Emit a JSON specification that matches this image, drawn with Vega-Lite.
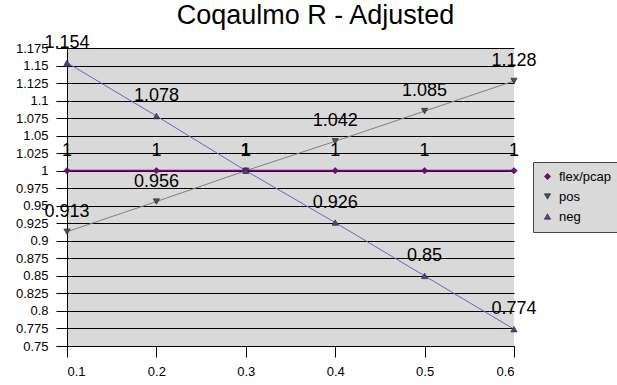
{
  "$schema": "https://vega.github.io/schema/vega-lite/v6.json",
  "width": 447,
  "height": 298,
  "autosize": "none",
  "padding": {"left": 67, "top": 48, "right": 103, "bottom": 39},
  "background": "white",
  "title": {
    "text": "Coqaulmo R - Adjusted",
    "font": "Liberation Sans",
    "fontSize": 27,
    "fontWeight": "normal",
    "color": "black",
    "anchor": "middle",
    "frame": "group",
    "dx": 25,
    "baseline": "alphabetic",
    "offset": -17
  },
  "config": {
    "view": {"fill": "#d9d9d9", "stroke": null},
    "font": "Liberation Sans"
  },
  "data": {
    "values": [
      {"x": 0.1, "series": "flex/pcap", "value": 1},
      {"x": 0.2, "series": "flex/pcap", "value": 1},
      {"x": 0.3, "series": "flex/pcap", "value": 1},
      {"x": 0.4, "series": "flex/pcap", "value": 1},
      {"x": 0.5, "series": "flex/pcap", "value": 1},
      {"x": 0.6, "series": "flex/pcap", "value": 1},
      {"x": 0.1, "series": "pos", "value": 0.913},
      {"x": 0.2, "series": "pos", "value": 0.956},
      {"x": 0.3, "series": "pos", "value": 1},
      {"x": 0.4, "series": "pos", "value": 1.042},
      {"x": 0.5, "series": "pos", "value": 1.085},
      {"x": 0.6, "series": "pos", "value": 1.128},
      {"x": 0.1, "series": "neg", "value": 1.154},
      {"x": 0.2, "series": "neg", "value": 1.078},
      {"x": 0.3, "series": "neg", "value": 1},
      {"x": 0.4, "series": "neg", "value": 0.926},
      {"x": 0.5, "series": "neg", "value": 0.85},
      {"x": 0.6, "series": "neg", "value": 0.774}
    ]
  },
  "encoding": {
    "x": {
      "field": "x",
      "type": "quantitative",
      "scale": {"domain": [0.1, 0.6], "nice": false, "zero": false},
      "axis": {
        "title": null,
        "values": [0.1, 0.2, 0.3, 0.4, 0.5, 0.6],
        "format": ".1f",
        "grid": false,
        "domainColor": "black",
        "domainWidth": 1,
        "tickColor": "black",
        "tickSize": 11,
        "labelFontSize": 13,
        "labelColor": "black",
        "labelPadding": 8,
        "labelFont": "Liberation Sans"
      }
    },
    "y": {
      "field": "value",
      "type": "quantitative",
      "scale": {"domain": [0.75, 1.175], "nice": false, "zero": false},
      "axis": {
        "title": null,
        "values": [0.75, 0.775, 0.8, 0.825, 0.85, 0.875, 0.9, 0.925, 0.95, 0.975, 1, 1.025, 1.05, 1.075, 1.1, 1.125, 1.15, 1.175],
        "format": ".3~f",
        "grid": true,
        "gridColor": "black",
        "gridWidth": 1,
        "gridOpacity": 1,
        "domainColor": "black",
        "domainWidth": 1,
        "tickColor": "black",
        "tickSize": 11,
        "labelFontSize": 13,
        "labelColor": "black",
        "labelPadding": 8,
        "labelFont": "Liberation Sans"
      }
    }
  },
  "layer": [
    {
      "transform": [{"filter": "datum.series === 'pos'"}],
      "mark": {"type": "line", "color": "#808080", "strokeWidth": 1},
      "encoding": {}
    },
    {
      "transform": [{"filter": "datum.series === 'neg'"}],
      "mark": {"type": "line", "color": "#7060c0", "strokeWidth": 1},
      "encoding": {}
    },
    {
      "transform": [{"filter": "datum.series === 'flex/pcap'"}],
      "mark": {"type": "line", "color": "#800080", "strokeWidth": 1.8},
      "encoding": {}
    },
    {
      "mark": {"type": "point", "filled": true, "stroke": "#222222", "strokeWidth": 0.6, "opacity": 1, "size": 40},
      "encoding": {
        "color": {
          "field": "series",
          "type": "nominal",
          "scale": {"domain": ["flex/pcap", "pos", "neg"], "range": ["#800080", "#505050", "#5a3c9a"]},
          "legend": {
            "title": null,
            "orient": "none",
            "legendX": 466,
            "legendY": 114,
            "fillColor": "#d9d9d9",
            "strokeColor": "#444444",
            "padding": 8,
            "rowPadding": 6,
            "symbolSize": 40,
            "symbolStrokeColor": "#222222",
            "symbolStrokeWidth": 0.6,
            "labelFont": "Liberation Sans",
            "labelFontSize": 13,
            "labelColor": "black",
            "labelOffset": 5
          }
        },
        "shape": {
          "field": "series",
          "type": "nominal",
          "scale": {"domain": ["flex/pcap", "pos", "neg"], "range": ["diamond", "triangle-down", "triangle-up"]}
        }
      }
    },
    {
      "mark": {"type": "text", "font": "Liberation Sans", "fontSize": 18, "color": "black", "baseline": "middle", "dy": -20},
      "encoding": {
        "text": {"field": "value", "type": "quantitative", "format": ".3~f"}
      }
    }
  ]
}
